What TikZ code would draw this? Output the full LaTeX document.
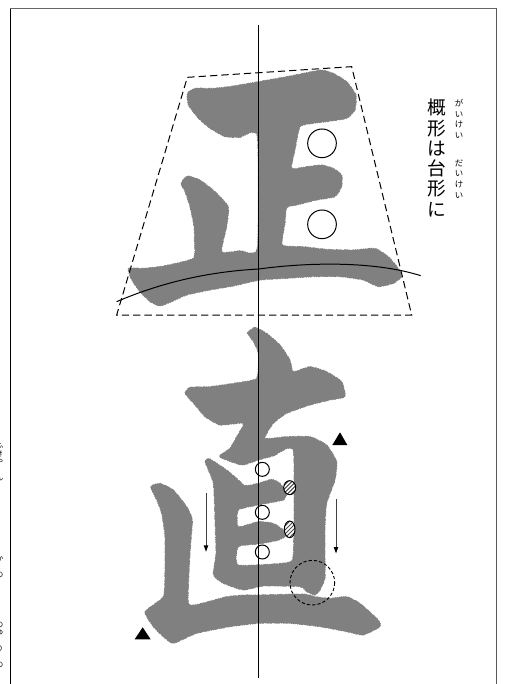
\documentclass[tikz,border=0pt]{standalone}
\usepackage{fontspec}
\newfontfamily\jp{Noto Sans CJK JP}
\tikzset{
  inkshape/.style={fill=ink,draw=ink,line width=0.7pt,dash pattern=on 1.1pt off 0.7pt on 0.6pt off 1.3pt on 1.7pt off 0.5pt},
  guide/.style={line width=0.75pt,draw=black},
  ringmark/.style={draw=black,line width=0.75pt,circle,inner sep=0pt,fill=none},
  dashline/.style={draw=black,line width=0.75pt,dash pattern=on 5.5pt off 3pt},
  title/.style={font=\jp\fontsize{14}{15.2}\selectfont,align=center,inner sep=0pt},
  ruby/.style={font=\jp\fontsize{6.3}{7.9}\selectfont,align=center,inner sep=0pt},
  edgeruby/.style={font=\jp\fontsize{5.6}{6}\selectfont,align=center,inner sep=0pt},
  zoomA/.style={shift={(100,60)},x=0.25pt,y=-0.25pt},
  zoomB/.style={shift={(130,320)},x=0.25pt,y=-0.25pt}
}
\definecolor{ink}{gray}{0.5}
\begin{document}
\begin{tikzpicture}[x=0.75pt,y=-0.75pt]
\useasboundingbox (0,0) rectangle (508,684);
\fill[white] (0,0) rectangle (508,684);
% frame
\draw[draw=black,line width=0.9pt] (10.5,684) -- (10.5,8.5);
\draw[draw=black!60,line width=1.3pt] (10,8.5) -- (497,8.5);
\draw[draw=black!65,line width=1.1pt] (496.5,8.5) -- (496.5,684);
% clipped text at the left edge
\begin{scope}
\clip (0,0) rectangle (3.5,684);
\node[edgeruby] (edgeA) at (-0.5,462) {ふ\\き\\や\\ \\ん};
\node[edgeruby] (edgeB) at (-0.5,567) {か\\ \\の};
\node[edgeruby] (edgeC) at (-0.5,645) {の\\ゆ\\ \\り\\ \\の};
\end{scope}
% sei
\begin{scope}[zoomA]
\path[inkshape] plot[smooth cycle,tension=0.3] coordinates {
(262,100)(285,85)(340,85)(400,78)(475,65)(560,50)(620,38)(665,30)(700,40)(740,65)(768,105)(765,150)(740,175)(680,185)(640,190)(600,200)(585,270)(575,325)(620,320)(665,315)(700,325)(725,345)(725,380)(705,410)(650,420)(590,435)(560,443)(555,490)(547,555)(610,560)(680,568)(760,570)(825,565)(865,590)(895,625)(905,650)(880,670)(835,680)(790,660)(720,650)(640,650)(560,655)(480,660)(400,678)(330,690)(260,705)(215,725)(180,738)(150,725)(120,695)(95,660)(85,625)(130,625)(190,618)(280,595)(283,540)(282,500)(270,440)(255,395)(243,370)(262,348)(300,360)(345,395)(385,440)(380,500)(365,575)(420,572)(472,565)(472,228)(420,232)(375,230)(330,205)(295,175)(265,135)};
\draw[dashline] (262,52) -- (755,20) -- (935,765) -- (50,765) -- cycle;
\draw[guide] (50,725) .. controls (190,665) and (330,635) .. (476,627) .. controls (640,605) and (830,605) .. (962,647);
\node[ringmark,minimum size=21.5pt] (ringA) at (666,250) {};
\node[ringmark,minimum size=21.5pt] (ringB) at (666,493) {};
\end{scope}
% choku
\begin{scope}[zoomB]
\path[inkshape] plot[smooth cycle,tension=0.3] coordinates {
(355,35)(375,22)(410,40)(450,75)(480,120)(490,155)(540,140)(590,155)(635,185)(645,230)(600,240)(540,255)(470,280)(430,310)(405,355)(470,350)(540,350)(590,375)(620,425)(615,480)(590,550)(585,620)(585,720)(585,775)(570,810)(555,825)(530,815)(510,800)(400,798)(340,810)(280,790)(250,765)(258,700)(255,600)(250,490)(225,425)(238,416)(290,450)(320,475)(345,497)(385,490)(425,478)(450,490)(470,520)(460,540)(410,550)(385,555)(325,570)(325,620)(385,605)(430,610)(460,630)(465,650)(440,662)(385,672)(325,680)(325,735)(470,728)(490,700)(490,392)(430,408)(385,420)(335,435)(268,410)(300,385)(320,350)(340,310)(270,315)(225,290)(195,255)(165,220)(180,202)(240,200)(310,190)(380,175)(385,100)(370,65)(352,40)};
\path[inkshape] plot[smooth cycle,tension=0.3] coordinates {
(62,500)(90,490)(130,510)(170,560)(187,600)(180,700)(175,850)(215,850)(290,830)(345,825)(385,825)(520,822)(555,830)(600,835)(650,830)(690,850)(745,900)(750,920)(700,945)(650,935)(570,920)(480,910)(385,910)(300,920)(200,940)(130,970)(100,950)(70,920)(45,875)(100,830)(105,750)(105,650)(95,580)(80,540)};
\fill[black] (607,375) -- (630,337) -- (652,375) -- cycle;
\fill[black] (14,958) -- (38,922) -- (62,958) -- cycle;
\coordinate (arrowAs) at (228,518); \coordinate (arrowAe) at (228,695);
\coordinate (arrowBs) at (618,537); \coordinate (arrowBe) at (618,700);
\draw[draw=black!75,line width=0.75pt] (arrowAs) -- (228,680);
\draw[draw=black!75,line width=0.75pt] (arrowBs) -- (618,685);
\fill[black] (arrowAe) -- (221,676) -- (235,676) -- cycle;
\fill[black] (arrowBe) -- (611,681) -- (625,681) -- cycle;
\node[ringmark,minimum size=10.5pt] (ringC) at (397,448) {};
\node[ringmark,minimum size=10.5pt] (ringD) at (397,577) {};
\node[ringmark,minimum size=10.5pt] (ringE) at (397,696) {};
\foreach \cx/\cy/\rx/\ry in {479/503/18/21,479/628/16/25}{
  \fill[white] (\cx,\cy) ellipse [x radius=\rx,y radius=\ry];
  \begin{scope}
    \clip (\cx,\cy) ellipse [x radius=\rx,y radius=\ry];
    \foreach \d in {-36,-24,...,36}{
      \draw[draw=black!70,line width=0.7pt] (\cx+\d-30,\cy+30) -- (\cx+\d+30,\cy-30);
    }
  \end{scope}
  \draw[draw=black,line width=0.75pt] (\cx,\cy) ellipse [x radius=\rx,y radius=\ry];
}
\draw[draw=black,line width=0.7pt,dash pattern=on 2.4pt off 1.6pt] (547,788) circle [radius=67];
\end{scope}
% axis
\coordinate (axisT) at (258.8,25);
\coordinate (axisB) at (258.8,678);
\draw[guide] (axisT) -- (axisB);
% caption
\node[title] (caption) at (437,158) {概\\形\\は\\台\\形\\に};
\node[ruby] (rubyA) at (459,119) {が\\い\\け\\い};
\node[ruby] (rubyB) at (459,179) {だ\\い\\け\\い};
\end{tikzpicture}
\end{document}
